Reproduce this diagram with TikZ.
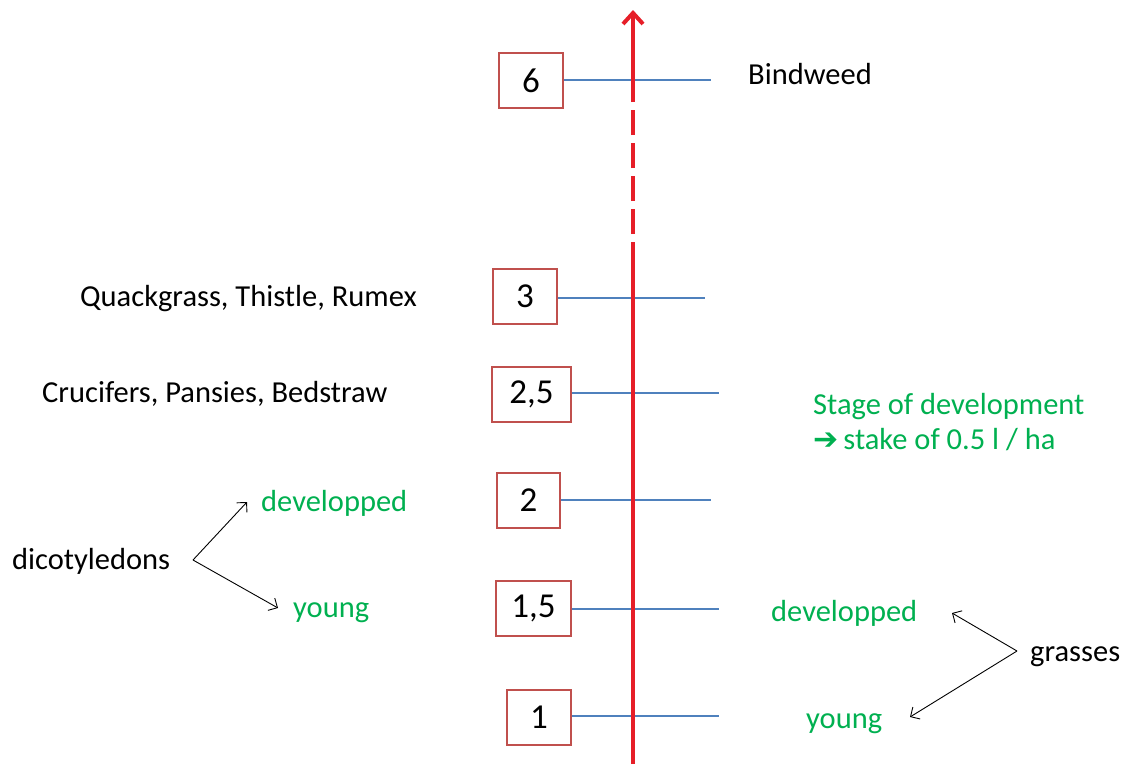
\documentclass[tikz,border=0pt]{standalone}
\usepackage{fontspec}
\setmainfont{Carlito}
\newfontfamily\symfont{DejaVu Sans}
\usetikzlibrary{arrows.meta}
\definecolor{axisred}{RGB}{230,30,40}
\definecolor{tickblue}{RGB}{79,129,189}
\definecolor{boxred}{RGB}{192,80,77}
\definecolor{lblgreen}{RGB}{0,176,80}
\tikzset{
  numbox/.style={draw=boxred, line width=1.3pt, fill=white, minimum height=55pt, inner sep=0pt, font=\fontsize{35}{40}\selectfont},
  tickline/.style={draw=tickblue, line width=1.2pt},
  lbl/.style={anchor=base west, inner sep=0pt, font=\fontsize{30.5}{36}\selectfont},
  glbl/.style={lbl, text=lblgreen},
  fork/.style={draw=black, line width=0.9pt, -{Straight Barb[length=7pt,width=14pt,line width=0.9pt]}},
  axis/.style={draw=axisred, line width=4.5pt}
}
\begin{document}
\begin{tikzpicture}[x=1pt,y=-1pt]
\useasboundingbox (0,0) rectangle (1127,764);
% boxes
\node[numbox, minimum width=64pt] (b6) at (531,80.5) {6};
\node[numbox, minimum width=64pt] (b3) at (525,296.5) {3};
\node[numbox, minimum width=79pt] (b25) at (531.5,394.5) {2,5};
\node[numbox, minimum width=63pt] (b2) at (528.5,500.5) {2};
\node[numbox, minimum width=75pt] (b15) at (533.5,608.5) {1,5};
\node[numbox, minimum width=64pt] (b1) at (539,717.5) {1};
% tick ends
\coordinate (e6) at (711,80);
\coordinate (e3) at (705,298);
\coordinate (e25) at (719,393);
\coordinate (e2) at (711,500);
\coordinate (e15) at (719,609);
\coordinate (e1) at (719,716);
\draw[tickline] (b6.east |- e6) -- (e6);
\draw[tickline] (b3.east |- e3) -- (e3);
\draw[tickline] (b25.east |- e25) -- (e25);
\draw[tickline] (b2.east |- e2) -- (e2);
\draw[tickline] (b15.east |- e15) -- (e15);
\draw[tickline] (b1.east |- e1) -- (e1);
% axis
\coordinate (ab) at (633,764);
\coordinate (ad1) at (633,267);
\coordinate (ad2) at (633,95);
\coordinate (at) at (633,10);
\draw[axis] (ab) -- (ad1);
\draw[axis, dash pattern=on 25pt off 8pt] (ad1) -- (ad2);
\draw[axis, -{Straight Barb[length=11pt,width=20pt,line width=4pt]}] (ad2) -- (at);
% labels
\node[lbl] (bind) at (748,84) {Bindweed};
\node[lbl] (quack) at (80,306) {Quackgrass, Thistle, Rumex};
\node[lbl] (cruc) at (42,402) {Crucifers, Pansies, Bedstraw};
\node[glbl] (stage) at (813,414) {Stage of development};
\node[glbl] (stake) at (813,449) {{\symfont\bfseries\fontsize{30}{30}\selectfont ➔}\,stake of 0.5 l / ha};
\node[glbl] (ldev) at (261,511) {developped};
\node[lbl] (dico) at (12,569) {dicotyledons};
\node[glbl] (lyoung) at (293,617) {young};
\node[glbl] (rdev) at (771,621) {developped};
\node[lbl] (grass) at (1030,661) {grasses};
\node[glbl] (ryoung) at (806,728) {young};
% forks
\coordinate (dv) at (193,560);
\coordinate (dvt) at (247,502);
\coordinate (dvb) at (278,608);
\draw[fork] (dv) -- (dvt);
\draw[fork] (dv) -- (dvb);
\coordinate (gv) at (1017,651);
\coordinate (gvt) at (952,613);
\coordinate (gvb) at (910,717);
\draw[fork] (gv) -- (gvt);
\draw[fork] (gv) -- (gvb);
\end{tikzpicture}
\end{document}
